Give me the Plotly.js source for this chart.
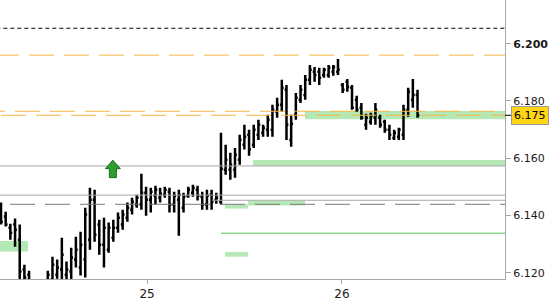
<!DOCTYPE html>
<html>
<head>
<meta charset="utf-8">
<script src="https://cdn.plot.ly/plotly-3.0.1.min.js"></script>
<style>html,body{margin:0;padding:0;background:#fff;}#chart{width:550px;height:300px;}</style>
</head>
<body>
<div id="chart"></div>
<script>
// OHLC bars (one per bar slot, left to right)
const opens = [6.1420,6.1396,6.1357,6.1368,6.1315,6.1211,6.1193,6.1155,6.1140,6.1135,
6.1165,6.1176,6.1193,6.1211,6.1193,6.1204,6.1246,6.1218,6.1246,6.1315,
6.1455,6.1368,6.1298,6.1280,6.1322,6.1357,6.1368,6.1392,6.1420,6.1438,
6.1438,6.1479,6.1455,6.1469,6.1462,6.1472,6.1483,6.1438,6.1455,6.1427,
6.1469,6.1479,6.1490,6.1465,6.1438,6.1472,6.1455,6.1448,6.1560,6.1560,
6.1560,6.1595,6.1647,6.1682,6.1647,6.1682,6.1689,6.1699,6.1699,6.1762,
6.1787,6.1839,6.1664,6.1752,6.1804,6.1821,6.1874,6.1902,6.1902,6.1891,
6.1891,6.1902,6.1902,6.1856,6.1867,6.1846,6.1804,6.1776,6.1717,6.1727,
6.1741,6.1741,6.1727,6.1699,6.1671,6.1675,6.1682,6.1769,6.1804,6.1821];
const highs = [6.1445,6.1413,6.1371,6.1389,6.1368,6.1228,6.1207,6.1163,6.1150,6.1160,
6.1207,6.1256,6.1246,6.1322,6.1239,6.1287,6.1326,6.1343,6.1427,6.1497,
6.1490,6.1385,6.1392,6.1375,6.1385,6.1410,6.1420,6.1445,6.1462,6.1472,
6.1546,6.1500,6.1497,6.1504,6.1497,6.1500,6.1497,6.1483,6.1490,6.1479,
6.1500,6.1507,6.1504,6.1483,6.1490,6.1490,6.1479,6.1689,6.1647,6.1619,
6.1636,6.1682,6.1717,6.1699,6.1717,6.1734,6.1717,6.1752,6.1787,6.1811,
6.1874,6.1856,6.1752,6.1828,6.1856,6.1891,6.1926,6.1919,6.1916,6.1916,
6.1926,6.1926,6.1947,6.1863,6.1877,6.1856,6.1818,6.1793,6.1755,6.1759,
6.1793,6.1752,6.1734,6.1717,6.1699,6.1706,6.1787,6.1846,6.1877,6.1839];
const lows = [6.1368,6.1361,6.1315,6.1291,6.1158,6.1158,6.1141,6.1130,6.1120,6.1125,
6.1158,6.1158,6.1179,6.1176,6.1172,6.1176,6.1218,6.1190,6.1183,6.1280,
6.1308,6.1263,6.1218,6.1270,6.1308,6.1340,6.1350,6.1378,6.1403,6.1427,
6.1420,6.1399,6.1410,6.1438,6.1445,6.1462,6.1410,6.1410,6.1329,6.1410,
6.1462,6.1465,6.1452,6.1420,6.1420,6.1420,6.1441,6.1438,6.1542,6.1525,
6.1532,6.1577,6.1630,6.1609,6.1636,6.1664,6.1675,6.1675,6.1675,6.1741,
6.1762,6.1664,6.1640,6.1734,6.1793,6.1804,6.1856,6.1867,6.1856,6.1881,
6.1881,6.1888,6.1891,6.1828,6.1832,6.1769,6.1762,6.1734,6.1699,6.1717,
6.1717,6.1706,6.1689,6.1664,6.1664,6.1664,6.1664,6.1745,6.1776,6.1741];
const closes = [6.1378,6.1368,6.1340,6.1350,6.1204,6.1183,6.1158,6.1140,6.1135,6.1155,
6.1193,6.1228,6.1218,6.1263,6.1211,6.1253,6.1280,6.1298,6.1403,6.1455,
6.1333,6.1298,6.1357,6.1357,6.1357,6.1392,6.1403,6.1427,6.1448,6.1462,
6.1479,6.1455,6.1483,6.1490,6.1476,6.1490,6.1438,6.1469,6.1472,6.1465,
6.1490,6.1497,6.1469,6.1438,6.1469,6.1448,6.1462,6.1563,6.1595,6.1577,
6.1612,6.1664,6.1675,6.1630,6.1699,6.1717,6.1706,6.1734,6.1769,6.1787,
6.1846,6.1717,6.1720,6.1811,6.1839,6.1874,6.1909,6.1891,6.1881,6.1909,
6.1916,6.1919,6.1909,6.1839,6.1849,6.1776,6.1769,6.1741,6.1741,6.1748,
6.1769,6.1717,6.1699,6.1682,6.1689,6.1699,6.1769,6.1832,6.1821,6.1750];

// Axis ticks
const yTickVals = [6.120, 6.140, 6.160, 6.180, 6.200];
const yTickText = ['6.120', '6.140', '6.160', '6.180', '<b>6.200</b>'];
const xTickVals = [31.2, 72.86];
const xTickText = ['25', '26'];

// Horizontal levels (price, start slot)
const levelPrice = [6.2054, 6.1960, 6.1764, 6.1750, 6.1573, 6.1471, 6.1453, 6.1439, 6.1338];
const levelStart = [-1, -1.5, -4.5, 0, -1, -1, 45.1, 1.92, 47.0];
const levelKind  = ['blackdash', 'orange', 'orange', 'orange', 'grey', 'grey', 'grey', 'greydash', 'green'];

// Green zones (slot from, slot to, price low, price high)
const zoneX0 = [-1, 47.86, 52.78, 47.86, 53.85, 64.96];
const zoneX1 = [5.77, 52.78, 64.96, 52.78, 200, 200];
const zoneLo = [6.1274, 6.1424, 6.1435, 6.1256, 6.1573, 6.1736];
const zoneHi = [6.1311, 6.1439, 6.1452, 6.1272, 6.1594, 6.1765];

// Signal arrow (slot, price at base)
const arrowSlot = [23.9];
const arrowPrice = [6.1532];

const lastPrice = 6.175;

const slots = opens.map((_, i) => i);

const styles = {
  blackdash: {color: '#000000', width: 1, dash: '4px,3px'},
  orange: {color: '#f5b845', width: 1, dash: '25px,10px'},
  grey: {color: '#a8a8a8', width: 1, dash: 'solid'},
  greydash: {color: '#7a7a7a', width: 1, dash: '25px,10px'},
  green: {color: '#55c155', width: 1, dash: 'solid'}
};

const shapes = [];
zoneX0.forEach((x0, i) => {
  shapes.push({type: 'rect', xref: 'x', yref: 'y', layer: 'below',
    x0: x0, x1: zoneX1[i], y0: zoneLo[i], y1: zoneHi[i],
    fillcolor: '#b4e8b4', line: {width: 0}});
});
levelPrice.forEach((p, i) => {
  shapes.push({type: 'line', xref: 'x', yref: 'y', layer: 'above',
    x0: levelStart[i], x1: 200, y0: p, y1: p, line: styles[levelKind[i]]});
});
arrowSlot.forEach((s, i) => {
  shapes.push({type: 'path', xref: 'x', yref: 'y', layer: 'above',
    xsizemode: 'pixel', ysizemode: 'pixel', xanchor: s, yanchor: arrowPrice[i],
    path: 'M-3.5,0 L3.5,0 L3.5,9 L7.5,9 L0,17.5 L-7.5,9 L-3.5,9 Z',
    fillcolor: '#2f9e2f', line: {color: '#1b6b1b', width: 1}});
});
// last price tick on axis
shapes.push({type: 'line', xref: 'paper', yref: 'y', x0: 1, x1: 1.013,
  y0: lastPrice, y1: lastPrice, line: {color: '#000', width: 1}});

const trace = {
  type: 'ohlc', x: slots, open: opens, high: highs, low: lows, close: closes,
  increasing: {line: {color: '#000000', width: 2.5}},
  decreasing: {line: {color: '#000000', width: 2.5}},
  tickwidth: 0.4, hoverinfo: 'skip', showlegend: false
};

const layout = {
  width: 550, height: 300,
  margin: {l: 0, r: 45, t: 0, b: 21, pad: 0},
  paper_bgcolor: '#ffffff', plot_bgcolor: '#ffffff',
  font: {family: 'DejaVu Sans, Verdana, sans-serif', size: 11, color: '#1a1a1a'},
  showlegend: false,
  xaxis: {
    range: [-0.214, 107.69], rangeslider: {visible: false},
    tickvals: xTickVals, ticktext: xTickText,
    ticks: 'outside', ticklen: 4, tickcolor: '#a8a8a8',
    showgrid: false, zeroline: false,
    showline: true, linecolor: '#a8a8a8', linewidth: 1,
    tickfont: {size: 12, color: '#1a1a1a'}, fixedrange: true
  },
  yaxis: {
    side: 'right', range: [6.1178, 6.21527],
    tickvals: yTickVals, ticktext: yTickText,
    ticks: 'outside', ticklen: 5, tickcolor: '#a8a8a8',
    showgrid: false, zeroline: false,
    showline: true, linecolor: '#a8a8a8', linewidth: 1,
    tickfont: {size: 11, color: '#1a1a1a'}, fixedrange: true
  },
  shapes: shapes,
  annotations: [{
    xref: 'paper', yref: 'y', x: 1, y: lastPrice, xanchor: 'left', yanchor: 'middle',
    xshift: 6, text: '6.175', showarrow: false,
    bgcolor: '#ffd516', bordercolor: '#9a9a9a', borderwidth: 1, borderpad: 2,
    font: {size: 11, color: '#000'}
  }]
};

Plotly.newPlot('chart', [trace], layout, {displayModeBar: false, staticPlot: true});
</script>
</body>
</html>
